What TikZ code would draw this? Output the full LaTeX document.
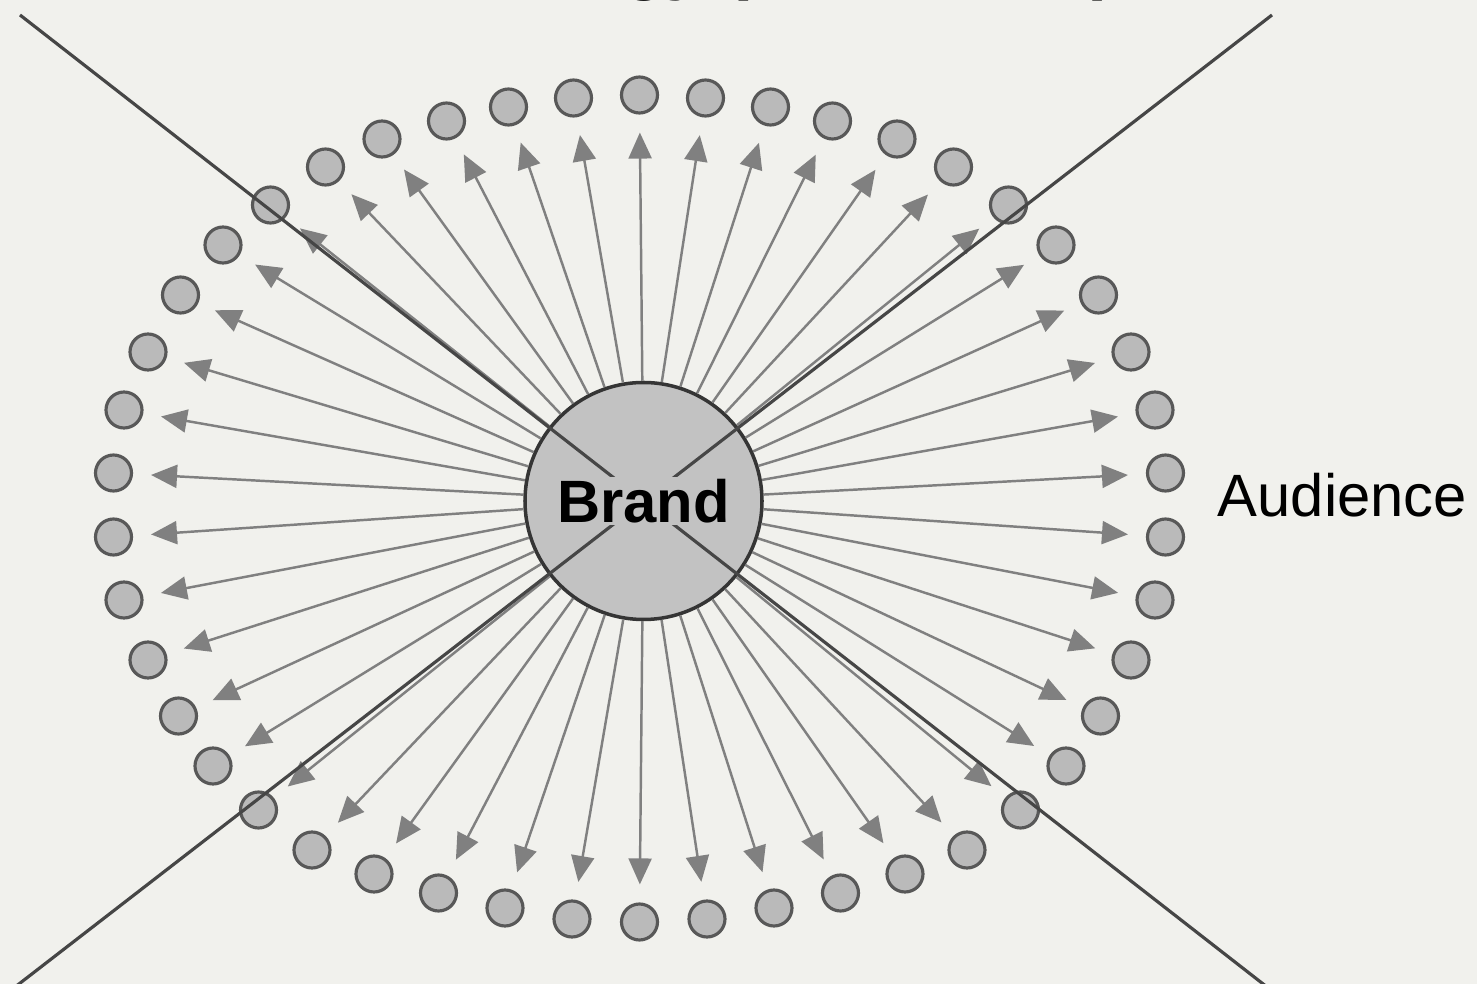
\documentclass[tikz,border=0pt]{standalone}
\usepackage{fontspec}
\setmainfont{Liberation Sans}
\usetikzlibrary{arrows.meta}
\definecolor{paper}{RGB}{241,241,237}
\definecolor{brandgray}{RGB}{194,194,194}
\definecolor{dotgray}{RGB}{186,186,186}
\definecolor{rimgray}{RGB}{88,88,88}
\definecolor{raygray}{RGB}{128,128,128}
\definecolor{crossgray}{RGB}{70,70,70}

\begin{document}
\begin{tikzpicture}[
    brand/.style={circle, draw=rimgray!60!black, line width=1pt, fill=brandgray, minimum size=2.37cm, inner sep=0pt},
    fan/.style={circle, draw=rimgray, line width=0.9pt, fill=dotgray, minimum size=0.36cm, inner sep=0pt},
    ray/.style={-{Triangle[length=2.6mm,width=2.3mm]}, draw=raygray, fill=raygray, line width=0.7pt, shorten >=1.8mm},
    cross/.style={draw=crossgray, line width=0.9pt}
]
\useasboundingbox (0,0) rectangle (14.77,9.84);
\clip (0,0) rectangle (14.77,9.84);
\fill[paper] (0,0) rectangle (14.77,9.84);

% title, mostly cut off by the top edge
\node[anchor=base, font=\fontsize{20}{24}\selectfont\bfseries] (title) at (7.02,9.97) {Old Strategy (Broadcast)};

\node[brand] (brand) at (6.435,4.83) {};

% audience ring: upper offsets / lower offsets per quadrant
\foreach \tx/\ty/\bx/\by [count=\i] in {5.26/0.35/5.26/0.29, 5.155/0.98/5.155/0.92, 4.915/1.56/4.915/1.52,
    4.59/2.13/4.61/2.08, 4.165/2.63/4.265/2.58, 3.69/3.03/3.81/3.02, 3.14/3.41/3.275/3.42,
    2.575/3.69/2.655/3.66, 1.93/3.87/2.01/3.85, 1.31/4.01/1.345/4.00, 0.66/4.10/0.675/4.11} {
  \node[fan] (ne\i) at (6.395+\tx,4.76+\ty) {};
  \node[fan] (nw\i) at (6.395-\tx,4.76+\ty) {};
  \node[fan] (sw\i) at (6.395-\bx,4.76-\by) {};
  \node[fan] (se\i) at (6.395+\bx,4.76-\by) {};
}
\node[fan] (top) at (6.395,8.89) {};
\node[fan] (bottom) at (6.395,0.62) {};

\foreach \i in {1,...,11}
  \foreach \q in {ne,nw,sw,se}
    \draw[ray] (brand) -- (\q\i);
\foreach \n in {top,bottom}
  \draw[ray] (brand) -- (\n);

% the cross over everything
\coordinate (tl) at (0.20,9.69);
\coordinate (tr) at (12.72,9.69);
\coordinate (bl) at (0.06,-0.10);
\coordinate (br) at (12.76,-0.10);
\draw[cross] (tl) -- (br);
\draw[cross] (tr) -- (bl);

\node[font=\fontsize{17}{20}\selectfont\bfseries, fill=brandgray, inner sep=0.5pt] (brandlabel) at (brand) {Brand};
\node[anchor=base west, inner sep=0pt, font=\fontsize{17}{20}\selectfont] (audience) at (12.17,4.67) {Audience};
\end{tikzpicture}
\end{document}
